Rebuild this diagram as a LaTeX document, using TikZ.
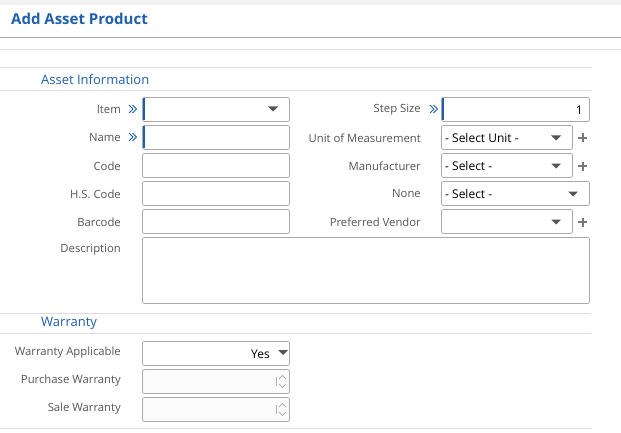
\documentclass[tikz,border=0pt]{standalone}
\usepackage{fontspec}
\setmainfont{Open Sans}
\definecolor{ttl}{HTML}{1F5FAD}
\definecolor{lbl}{HTML}{555555}
\definecolor{bd}{HTML}{AAAAAA}
\definecolor{ln}{HTML}{DDDDE8}
\definecolor{req}{HTML}{1B5EB0}
\definecolor{dis}{HTML}{FBFBFB}
\begin{document}
\begin{tikzpicture}[x=1pt,y=-1pt,
  lab/.style={anchor=east,text=lbl,font=\fontsize{11.3}{13}\selectfont,inner sep=0},
  fld/.style={draw=bd,rounded corners=2pt,line width=0.8pt},
  val/.style={font=\fontsize{12}{14}\selectfont,inner sep=0},
  sec/.style={anchor=west,text=ttl,font=\fontsize{13}{15}\selectfont,inner sep=0},
  hl/.style={draw=ln,line width=0.8pt},
  chev/.style={draw=req,line width=0.9pt}]
\useasboundingbox (0,0) rectangle (621,433);
\fill[white] (0,0) rectangle (621,433);
\fill[black!5] (0,0) rectangle (621,5);
\node[anchor=west,text=ttl,font=\bfseries\fontsize{15}{17}\selectfont,inner sep=0] (title) at (11,19) {Add Asset Product};
\draw[black!35,line width=0.8pt] (0,37.5) -- (621,37.5);
\draw[hl] (0,49.5) -- (621,49.5);
\draw[hl] (0,67.5) -- (591,67.5);
\node[sec] (ai) at (41,80) {Asset Information};
\draw[hl] (0,90.5) -- (591,90.5);
\foreach \n/\t/\y in {l1/Item/110,l2/Name/138,l3/Code/166,l4/H.S. Code/194,l5/Barcode/222,l6/Description/250,w1/Warranty Applicable/353,w2/Purchase Warranty/381,w3/Sale Warranty/409}
  \node[lab] (\n) at (121,\y) {\t};
\foreach \x/\y in {129/109,129/137,430/109}{
  \draw[chev] (\x,\y-4) -- (\x+4,\y) -- (\x,\y+4);
  \draw[chev] (\x+3.5,\y-4) -- (\x+7.5,\y) -- (\x+3.5,\y+4);}
\foreach \n/\t/\y in {r1/Step Size/110,r2/Unit of Measurement/138,r3/Manufacturer/166,r4/None/194,r5/Preferred Vendor/222}
  \node[lab] (\n) at (421,\y) {\t};
\foreach \y in {97,125,153,181,209}
  \draw[fld] (142.5,\y.5) rectangle (289.5,\y.5+24);
\draw[fld] (142.5,237.5) rectangle (589.5,303.5);
\draw[fld] (441.5,97.5) rectangle (589.5,121.5);
\draw[fld] (441.5,125.5) rectangle (572.5,149.5);
\draw[fld] (441.5,153.5) rectangle (572.5,177.5);
\draw[fld] (441.5,181.5) rectangle (589.5,205.5);
\draw[fld] (441.5,209.5) rectangle (572.5,233.5);
\foreach \x/\y in {143/97,143/125,442/97}
  \fill[req] (\x-0.5,\y+1.5) rectangle (\x+1.5,\y+23.5);
\foreach \x/\y in {273/109,556/138,556/166,573/194,556/222}
  \fill[lbl] (\x-5,\y-2.5) -- (\x+5,\y-2.5) -- (\x,\y+2.5) -- cycle;
\foreach \y in {138,166,222}{
  \fill[lbl!80] (578,\y-1) rectangle (587,\y+1);
  \fill[lbl!80] (581.5,\y-4.5) rectangle (583.5,\y+4.5);}
\node[val,anchor=east] (v1) at (583,110) {1};
\node[val,anchor=west] (v2) at (445,138) {- Select Unit -};
\node[val,anchor=west] (v3) at (445,166) {- Select -};
\node[val,anchor=west] (v4) at (445,194) {- Select -};
\draw[hl] (0,313.5) -- (591,313.5);
\node[sec] (wt) at (41,323) {Warranty};
\draw[hl] (0,333.5) -- (591,333.5);
\draw[fld] (142.5,341.5) rectangle (289.5,365.5);
\node[val,anchor=east] (yes) at (270,354) {Yes};
\fill[lbl] (278,350) -- (288,350) -- (283,355) -- cycle;
\foreach \y in {369,397}{
  \draw[fld,fill=dis] (142.5,\y.5) rectangle (289.5,\y.5+24);
  \draw[black!30] (276.5,\y+8) -- (276.5,\y+17);
  \draw[black!30,line width=0.9pt] (279,\y+10) -- (282.5,\y+6.5) -- (286,\y+10);
  \draw[black!30,line width=0.9pt] (279,\y+15) -- (282.5,\y+18.5) -- (286,\y+15);
}
\draw[hl] (0,428.5) -- (591,428.5);
\end{tikzpicture}
\end{document}
